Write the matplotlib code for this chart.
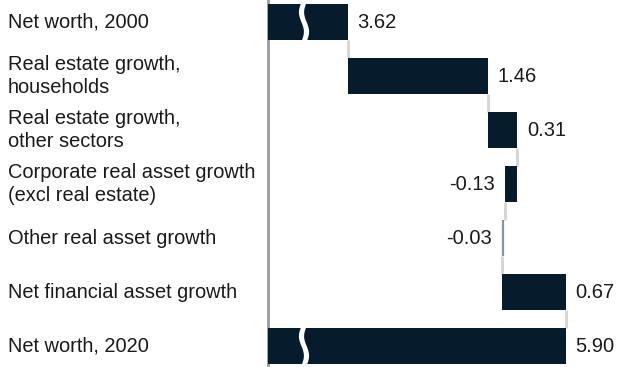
import matplotlib
matplotlib.use("Agg")
import matplotlib.pyplot as plt
import numpy as np
from matplotlib.patches import Polygon
from matplotlib.transforms import blended_transform_factory

categories = ["Net worth, 2000", "Real estate growth,\nhouseholds", "Real estate growth,\nother sectors",
              "Corporate real asset growth\n(excl real estate)", "Other real asset growth",
              "Net financial asset growth", "Net worth, 2020"]
values = [3.62, 1.46, 0.31, -0.13, -0.03, 0.67, 5.90]
value_labels = ["3.62", "1.46", "0.31", "-0.13", "-0.03", "0.67", "5.90"]
is_total = [True, False, False, False, False, False, True]

plt.rcParams['font.family'] = ['Liberation Sans', 'DejaVu Sans']
NAVY = "#061c2c"
TXT = "#1a1a1a"

W, H = 617, 367
fig = plt.figure(figsize=(W / 100, H / 100), dpi=100)
ax_left = 268 / W
ax = fig.add_axes([ax_left, 0, 1 - ax_left, 1])

n = len(values)
y = np.arange(n)
bar_h = 0.685

# waterfall positions
starts, ends = [], []
running = 0.0
for v, tot in zip(values, is_total):
    if tot:
        s, e = 0.0, v
        running = v
    else:
        s, e = running, running + v
        running = e
    starts.append(s)
    ends.append(e)

xmin, xmax = 2.783, 6.434
ax.set_xlim(xmin, xmax)
ax.set_ylim(6 + 21 / 54, -22 / 54)

for i in range(n):
    left = min(starts[i], ends[i])
    width = abs(ends[i] - starts[i])
    if abs(values[i]) < 0.05:
        ax.vlines(ends[i] + 0.01, y[i] - bar_h / 2, y[i] + bar_h / 2, color="#8a949c", lw=1.6, zorder=3)
    else:
        ax.barh(y[i], width, left=left, height=bar_h, color=NAVY, zorder=3)

# connectors
for i in range(n - 1):
    xc = ends[i]
    ax.vlines(xc, y[i] + bar_h / 2, y[i + 1] - bar_h / 2, color="#d4d4d4", lw=2, zorder=2)

# value labels
pad = 0.1
for i in range(n):
    if values[i] >= 0:
        ax.text(max(starts[i], ends[i]) + pad, y[i], value_labels[i], ha="left", va="center",
                fontsize=14.5, color=TXT)
    else:
        ax.text(min(starts[i], ends[i]) - pad, y[i], value_labels[i], ha="right", va="center",
                fontsize=14.5, color=TXT)

# category labels
tr = blended_transform_factory(fig.transFigure, ax.transData)
for i in range(n):
    ax.text(8 / W, y[i], categories[i], transform=tr, ha="left", va="center",
            fontsize=14.4, color=TXT, linespacing=1.25, clip_on=False)

# break marks on total bars
btr = blended_transform_factory(ax.transAxes, ax.transData)
cx = (304 - 268) / (W - 268)
hw = 2.6 / (W - 268)
amp = 2.5 / (W - 268)
ts = np.linspace(0, 1, 30)
for i in range(n):
    if is_total[i]:
        y0 = y[i] - bar_h / 2 - 0.02
        y1 = y[i] + bar_h / 2 + 0.02
        yy = y0 + ts * (y1 - y0)
        off = amp * np.sin(ts * 2 * np.pi) * -1
        left_pts = np.column_stack([cx - hw + off, yy])
        right_pts = np.column_stack([cx + hw + off, yy])[::-1]
        poly = Polygon(np.vstack([left_pts, right_pts]), closed=True, transform=btr,
                       facecolor="white", edgecolor="none", zorder=4)
        ax.add_patch(poly)

for s in ["top", "right", "bottom"]:
    ax.spines[s].set_visible(False)
ax.spines["left"].set_color("#9a9a9a")
ax.spines["left"].set_linewidth(2)
ax.set_xticks([])
ax.set_yticks([])
ax.patch.set_alpha(0)

fig.savefig("out.png", dpi=100)
